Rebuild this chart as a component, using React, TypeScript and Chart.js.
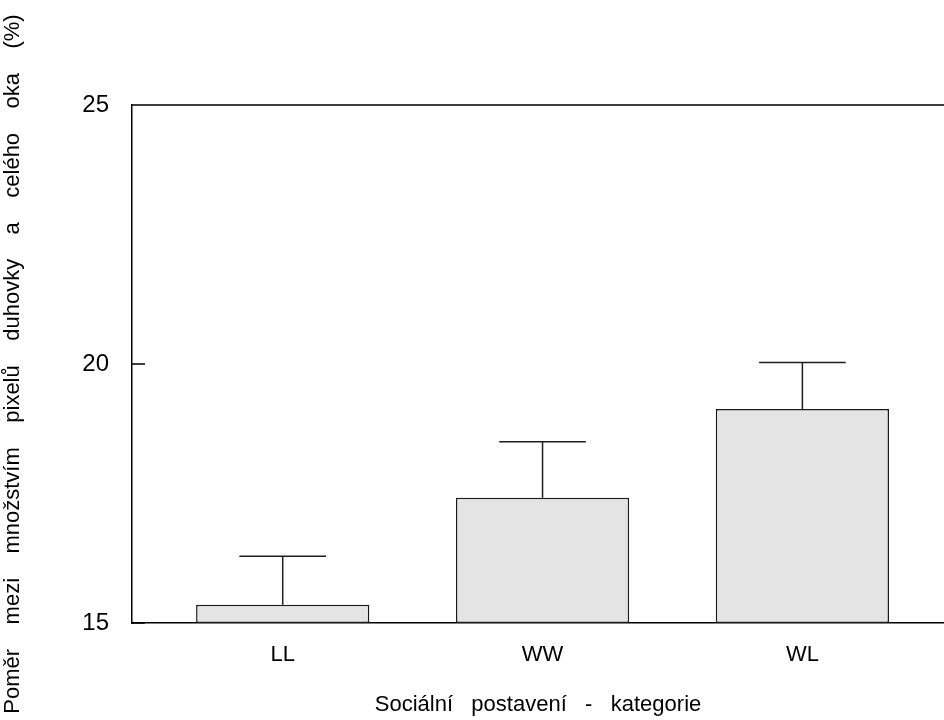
import React, { useEffect, useRef } from "react";
import { Chart, registerables } from "chart.js";

Chart.register(...registerables);

const categories = ["LL", "WW", "WL"];
const positions = [1, 2, 3];
const means = [15.35, 17.42, 19.13];
const upperErrors = [16.29, 18.5, 20.03];
const yTicks = [15, 20, 25];

const xTitle = "Sociální   postavení   -   kategorie";
const yTitle = "Poměr    mezi    množstvím    pixelů    duhovky    a    celého    oka    (%)";

const FONT = "'Liberation Sans', Arial, sans-serif";

const errorBarPlugin = {
  id: "errorBars",
  afterDatasetsDraw(chart: any) {
    const { ctx, scales } = chart;
    const meta = chart.getDatasetMeta(0);
    ctx.save();
    ctx.strokeStyle = "#1e1e1e";
    ctx.lineWidth = 1.5;
    meta.data.forEach((bar: any, i: number) => {
      const x = bar.x;
      const w = bar.width;
      const yTop = scales.y.getPixelForValue(upperErrors[i]);
      const yMean = scales.y.getPixelForValue(means[i]);
      ctx.beginPath();
      ctx.moveTo(x, yMean);
      ctx.lineTo(x, yTop);
      ctx.moveTo(x - w / 4, yTop);
      ctx.lineTo(x + w / 4, yTop);
      ctx.stroke();
    });
    ctx.restore();
  },
};

const framePlugin = {
  id: "frameTop",
  afterDraw(chart: any) {
    const { ctx, chartArea, scales } = chart;
    ctx.save();
    ctx.strokeStyle = "#000";
    ctx.lineWidth = 1.5;
    ctx.beginPath();
    ctx.moveTo(chartArea.left, chartArea.top);
    ctx.lineTo(chartArea.right, chartArea.top);
    yTicks.forEach((v) => {
      const y = scales.y.getPixelForValue(v);
      ctx.moveTo(chartArea.left, y);
      ctx.lineTo(chartArea.left + 13, y);
    });
    ctx.stroke();
    ctx.restore();
  },
};

export default function App() {
  const canvasRef = useRef<HTMLCanvasElement | null>(null);

  useEffect(() => {
    if (!canvasRef.current) return;
    const chart = new Chart(canvasRef.current, {
      type: "bar",
      data: {
        datasets: [
          {
            data: positions.map((p, i) => ({ x: p, y: means[i] })),
            backgroundColor: "#e4e4e4",
            borderColor: "#1a1a1a",
            borderWidth: 1.5,
            borderSkipped: false,
            base: 15,
            barPercentage: 0.6667,
            categoryPercentage: 1,
          } as any,
        ],
      },
      options: {
        animation: false,
        responsive: true,
        maintainAspectRatio: false,
        layout: { padding: { top: 105, right: 0, left: 0, bottom: 0 } },
        plugins: {
          legend: { display: false },
          tooltip: { enabled: false },
        },
        scales: {
          x: {
            type: "linear",
            offset: false,
            min: 0.42,
            max: 3.545,
            grid: { display: false },
            border: { display: true, color: "#000", width: 1.5 },
            afterBuildTicks: (scale: any) => {
              scale.ticks = positions.map((v) => ({ value: v }));
            },
            afterFit: (scale: any) => {
              scale.height = 97;
            },
            ticks: {
              color: "#000",
              padding: 11,
              maxRotation: 0,
              autoSkip: false,
              font: { family: FONT, size: 22 },
              callback: (v: any) => {
                const idx = positions.indexOf(Number(v));
                return idx >= 0 ? categories[idx] : "";
              },
            },
            title: {
              display: true,
              text: xTitle,
              color: "#000",
              font: { family: FONT, size: 22 },
              padding: { top: 0, bottom: 2 },
            },
          },
          y: {
            min: 15,
            max: 25,
            grid: { display: false },
            border: { display: true, color: "#000", width: 1.5 },
            afterBuildTicks: (scale: any) => {
              scale.ticks = yTicks.map((v) => ({ value: v }));
            },
            afterFit: (scale: any) => {
              scale.width = 132;
            },
            ticks: {
              color: "#000",
              padding: 15,
              font: { family: FONT, size: 24 },
            },
            title: {
              display: true,
              text: yTitle,
              color: "#000",
              font: { family: FONT, size: 22 },
              padding: { top: 0, bottom: 0 },
            },
          },
        },
      },
      plugins: [errorBarPlugin, framePlugin],
    });
    return () => chart.destroy();
  }, []);

  return (
    <div style={{ position: "absolute", left: 0, top: 0, width: 944, height: 720 }}>
      <canvas ref={canvasRef} />
    </div>
  );
}
